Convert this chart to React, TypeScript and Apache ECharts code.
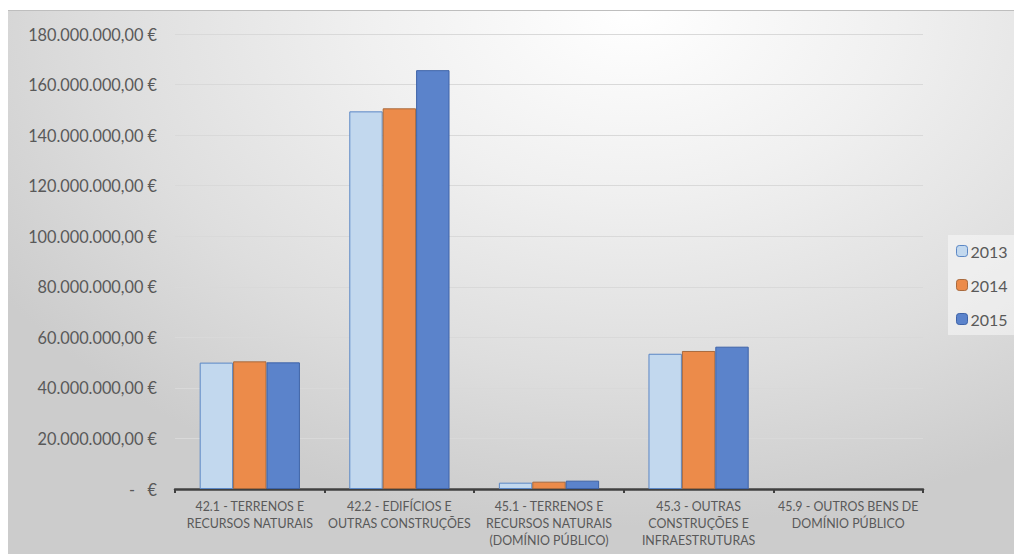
import React, { useEffect, useRef } from "react";
import * as echarts from "echarts";

const categories = [
  "42.1 - TERRENOS E\nRECURSOS NATURAIS",
  "42.2 - EDIFÍCIOS E\nOUTRAS CONSTRUÇÕES",
  "45.1 - TERRENOS E\nRECURSOS NATURAIS\n(DOMÍNIO PÚBLICO)",
  "45.3 - OUTRAS\nCONSTRUÇÕES E\nINFRAESTRUTURAS",
  "45.9 - OUTROS BENS DE\nDOMÍNIO PÚBLICO",
];
const years = ["2013", "2014", "2015"];
const values2013 = [50000000, 149400000, 2500000, 53500000, 0];
const values2014 = [50500000, 150600000, 2900000, 54600000, 0];
const values2015 = [50100000, 165700000, 3300000, 56300000, 0];
const yTicks = { min: 0, max: 180000000, interval: 20000000 };

const fills = ["#C2D8EE", "#EC8B4A", "#5B83CB"];
const borders = ["#5B87C5", "#A86A3E", "#3E63A8"];

function fmt(v: number): string {
  if (v === 0) return "-   €";
  const s = Math.round(v).toString().replace(/\B(?=(\d{3})+(?!\d))/g, ".");
  return s + ",00 €";
}

export default function App() {
  const ref = useRef<HTMLDivElement>(null);
  useEffect(() => {
    if (!ref.current) return;
    const chart = echarts.init(ref.current, undefined, { renderer: "svg" });
    const data = [values2013, values2014, values2015];
    chart.setOption({
      animation: false,
      textStyle: { fontFamily: "Lato, 'Open Sans', sans-serif" },
      grid: { left: 167, top: 23, width: 748, height: 455, containLabel: false },
      legend: {
        orient: "vertical",
        left: 940,
        top: 224,
        itemWidth: 11,
        itemHeight: 11,
        itemGap: 18,
        padding: [8, 10, 8, 8],
        backgroundColor: "rgba(250,250,250,0.55)",
        textStyle: { fontSize: 16, color: "#595959", fontFamily: "Lato, sans-serif", padding: [0, 0, 0, -2] },
        data: years.map((y, i) => ({
          name: y,
          itemStyle: { color: fills[i], borderColor: borders[i], borderWidth: 1 },
        })),
      },
      xAxis: {
        type: "category",
        data: categories,
        axisLine: { lineStyle: { color: "#404040", width: 2.5 } },
        axisTick: { show: true, length: 4, lineStyle: { color: "#404040", width: 2 } },
        axisLabel: {
          color: "#595959",
          fontSize: 12.4,
          lineHeight: 17,
          margin: 9,
          interval: 0,
          fontFamily: "Lato, sans-serif",
        },
      },
      yAxis: {
        type: "value",
        min: yTicks.min,
        max: yTicks.max,
        interval: yTicks.interval,
        axisLine: { show: false },
        axisTick: { show: false },
        splitLine: { lineStyle: { color: "#D9D9D9", width: 1 } },
        axisLabel: {
          color: "#595959",
          fontSize: 16.3,
          margin: 18,
          fontFamily: "Lato, sans-serif",
          formatter: (v: number) => fmt(v),
        },
      },
      series: years.map((y, i) => ({
        name: y,
        type: "bar",
        data: data[i].map((v) => (v === 0 ? { value: v, itemStyle: { borderWidth: 0 } } : v)),
        barGap: "0%",
        barCategoryGap: "33%",
        itemStyle: { color: fills[i], borderColor: borders[i], borderWidth: 1 },
      })),
    });
    return () => chart.dispose();
  }, []);
  return (
    <div
      style={{
        position: "absolute",
        left: 8,
        top: 10,
        width: 1006,
        height: 544,
        borderTop: "1px solid #BEBEBE",
        boxSizing: "border-box",
        background:
          "radial-gradient(ellipse 75% 95% at 62% 0%, #FFFFFF 0%, #F0F0F0 35%, #DEDEDE 70%, #CCCCCC 100%)",
      }}
    >
      <div ref={ref} style={{ width: 1006, height: 543 }} />
    </div>
  );
}
